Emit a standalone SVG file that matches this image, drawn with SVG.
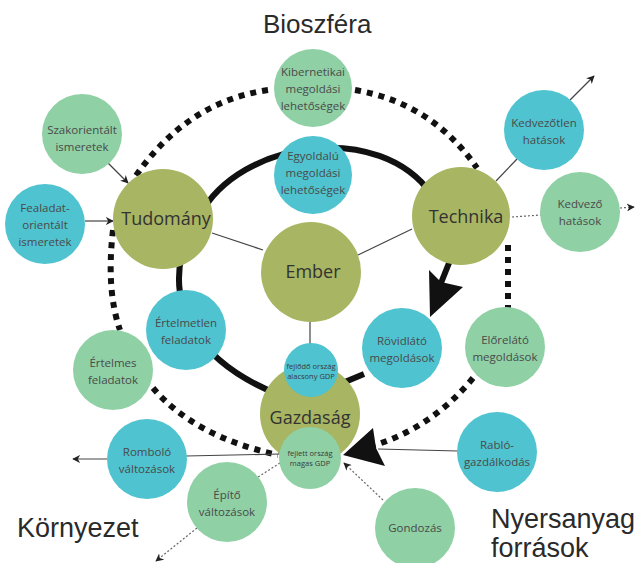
<svg xmlns="http://www.w3.org/2000/svg" width="635" height="563" viewBox="0 0 635 563">
<style>
.olive{fill:#a8b562}
.teal{fill:#4fc3cf}
.lg{fill:#8fd0a5}
.big{font-family:"Open Sans","DejaVu Sans",sans-serif;font-size:18px;fill:#333;text-anchor:middle}
.sm{font-family:"Open Sans","DejaVu Sans",sans-serif;font-size:11.5px;fill:#4a4a4a;text-anchor:middle}
.xs{font-family:"Open Sans","DejaVu Sans",sans-serif;font-size:7.5px;fill:#3a3a3a;text-anchor:middle}
.title{font-family:"Liberation Sans",Arial,sans-serif;font-size:26px;fill:#2a2a2a}
.solid{fill:none;stroke:#111;stroke-width:6}
.dots{fill:none;stroke:#111;stroke-width:6;stroke-dasharray:6 6}
.thin{fill:none;stroke:#444;stroke-width:1.2}
.dthin{fill:none;stroke:#666;stroke-width:1.2;stroke-dasharray:2 2}
</style>
<defs>
<marker id="ah" viewBox="0 0 10 10" refX="9" refY="5" markerWidth="8" markerHeight="8" markerUnits="userSpaceOnUse" orient="auto">
<path d="M0,0 L10,5 L0,10 L3,5 Z" fill="#222"/>
</marker>
</defs>
<rect width="635" height="563" fill="#ffffff"/>

<text class="title" x="263" y="33">Bioszféra</text>
<text class="title" x="17" y="537" style="font-size:27px">Környezet</text>
<text class="title" x="491" y="528" style="font-size:27px">Nyersanyag</text>
<text class="title" x="491" y="557" style="font-size:27px">források</text>

<g id="connectors">
<!-- solid inner loop -->
<path class="solid" d="M200,215 C240,140 380,120 432,195"/>
<path class="solid" d="M451,258 L441,283"/>
<path d="M429,270 L441,282 L463,287 L430,317 Z" fill="#111"/>
<path class="solid" d="M364,374 L340,384"/>
<path class="solid" d="M183,250 C168,305 195,362 282,396"/>
<!-- dotted outer loop -->
<path class="dots" d="M268,90 Q185,102 133,180"/>
<path class="dots" d="M113,230 Q106,290 120,330"/>
<path class="dots" d="M153,388 Q195,437 278,455"/>
<path class="dots" d="M473,378 Q432,428 372,446"/>
<path d="M373,428 L343,455 L385,466 L376,448 Z" fill="#111"/>
<path class="dots" d="M508,245 L508,310"/>
<path class="dots" d="M355,90 Q432,103 477,168"/>
<!-- thin connectors -->
<line class="thin" x1="108" y1="163" x2="128" y2="183" marker-end="url(#ah)"/>
<line class="thin" x1="85" y1="221" x2="113" y2="221" marker-end="url(#ah)"/>
<line class="thin" x1="212" y1="233" x2="263" y2="250"/>
<line class="thin" x1="412" y1="229" x2="358" y2="255"/>
<line class="thin" x1="310" y1="320" x2="310" y2="345"/>
<line class="thin" x1="496" y1="181" x2="517" y2="159"/>
<line class="thin" x1="570" y1="100" x2="594" y2="76" marker-end="url(#ah)"/>
<line class="dthin" x1="512" y1="217" x2="541" y2="215"/>
<line class="dthin" x1="620" y1="208" x2="634" y2="207" marker-end="url(#ah)"/>
<line class="thin" x1="280" y1="454" x2="186" y2="456"/>
<line class="thin" x1="107" y1="459" x2="73" y2="459" marker-end="url(#ah)"/>
<line class="dthin" x1="280" y1="463" x2="258" y2="477"/>
<line class="dthin" x1="197" y1="528" x2="156" y2="561" marker-end="url(#ah)"/>
<line class="thin" x1="458" y1="451" x2="378" y2="449"/>
<line class="dthin" x1="383" y1="500" x2="344" y2="463" marker-end="url(#ah)"/>
</g>

<g id="n-tudomany"><circle class="olive" cx="163" cy="219" r="50"/><text class="big" x="166" y="225">Tudomány</text></g>
<g id="n-technika"><circle class="olive" cx="461" cy="216" r="49"/><text class="big" x="466" y="223">Technika</text></g>
<g id="n-ember"><circle class="olive" cx="311" cy="272" r="50"/><text class="big" x="313" y="278">Ember</text></g>
<g id="n-gazdasag"><circle class="olive" cx="310" cy="414" r="50"/><text class="big" x="310" y="424">Gazdaság</text></g>

<g id="n-kibernetikai"><circle class="lg" cx="313" cy="88" r="39"/><text class="sm" x="313" y="76">Kibernetikai</text><text class="sm" x="313" y="93">megoldási</text><text class="sm" x="313" y="110">lehetőségek</text></g>
<g id="n-egyoldalu"><circle class="teal" cx="313" cy="175" r="39"/><text class="sm" x="313" y="160">Egyoldalú</text><text class="sm" x="313" y="177">megoldási</text><text class="sm" x="313" y="194">lehetőségek</text></g>
<g id="n-szakorientalt"><circle class="lg" cx="82" cy="134" r="40"/><text class="sm" x="82" y="134">Szakorientált</text><text class="sm" x="82" y="151">ismeretek</text></g>
<g id="n-feladat"><circle class="teal" cx="45" cy="224" r="40"/><text class="sm" x="45" y="212">Fealadat-</text><text class="sm" x="45" y="229">orientált</text><text class="sm" x="45" y="246">ismeretek</text></g>
<g id="n-kedvezotlen"><circle class="teal" cx="544" cy="130" r="40"/><text class="sm" x="544" y="127">Kedvezőtlen</text><text class="sm" x="544" y="144">hatások</text></g>
<g id="n-kedvezo"><circle class="lg" cx="580" cy="212" r="40"/><text class="sm" x="580" y="208">Kedvező</text><text class="sm" x="580" y="225">hatások</text></g>
<g id="n-ertelmetlen"><circle class="teal" cx="186" cy="330" r="40"/><text class="sm" x="186" y="327">Értelmetlen</text><text class="sm" x="186" y="344">feladatok</text></g>
<g id="n-ertelmes"><circle class="lg" cx="113" cy="370" r="40"/><text class="sm" x="113" y="367">Értelmes</text><text class="sm" x="113" y="384">feladatok</text></g>
<g id="n-rovidlato"><circle class="teal" cx="402" cy="348" r="40"/><text class="sm" x="402" y="345">Rövidlátó</text><text class="sm" x="402" y="362">megoldások</text></g>
<g id="n-elorelato"><circle class="lg" cx="505" cy="347" r="40"/><text class="sm" x="505" y="344">Előrelátó</text><text class="sm" x="505" y="361">megoldások</text></g>
<g id="n-fejlodo"><circle class="teal" cx="311" cy="370" r="27"/><text class="xs" x="311" y="369">fejlődő ország</text><text class="xs" x="311" y="379">alacsony GDP</text></g>
<g id="n-fejlett"><circle class="lg" cx="310" cy="458" r="31"/><text class="xs" x="310" y="456">fejlett ország</text><text class="xs" x="310" y="466">magas GDP</text></g>
<g id="n-rombolo"><circle class="teal" cx="147" cy="459" r="40"/><text class="sm" x="147" y="456">Romboló</text><text class="sm" x="147" y="473">változások</text></g>
<g id="n-rablo"><circle class="teal" cx="497" cy="452" r="40"/><text class="sm" x="497" y="449">Rabló-</text><text class="sm" x="497" y="466">gazdálkodás</text></g>
<g id="n-epito"><circle class="lg" cx="227" cy="502" r="40"/><text class="sm" x="227" y="499">Építő</text><text class="sm" x="227" y="516">változások</text></g>
<g id="n-gondozas"><circle class="lg" cx="415" cy="528" r="40"/><text class="sm" x="415" y="532">Gondozás</text></g>
</svg>
